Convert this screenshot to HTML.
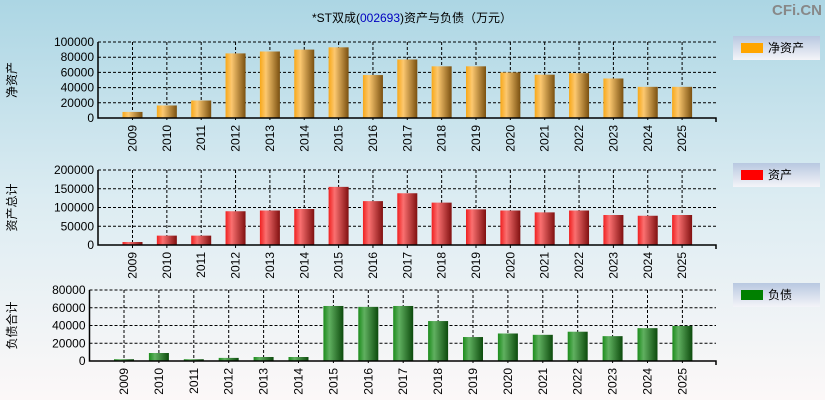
<!DOCTYPE html>
<html><head><meta charset="utf-8">
<style>
body{margin:0;width:825px;height:400px;overflow:hidden;font-family:"Liberation Sans","Noto Sans CJK SC",sans-serif;}
svg{display:block}
</style></head>
<body>
<svg id="c" width="825" height="400" xmlns="http://www.w3.org/2000/svg">
<defs>
<linearGradient id="bg" x1="0" y1="0" x2="0" y2="1"><stop offset="0" stop-color="#acd6e4"/><stop offset="0.5" stop-color="#dcecf2"/><stop offset="1" stop-color="#fcf8f8"/></linearGradient>
<linearGradient id="lg" x1="0" y1="0" x2="0" y2="1"><stop offset="0" stop-color="#b8c8e0"/><stop offset="1" stop-color="#f4f4f8"/></linearGradient>
<linearGradient id="go" x1="0" x2="1"><stop offset="0" stop-color="#f8a818"/><stop offset="0.3" stop-color="#fcc870"/><stop offset="1" stop-color="#7a5010"/></linearGradient>
<linearGradient id="gr" x1="0" x2="1"><stop offset="0" stop-color="#f02020"/><stop offset="0.3" stop-color="#fa7070"/><stop offset="1" stop-color="#801010"/></linearGradient>
<linearGradient id="gg" x1="0" x2="1"><stop offset="0" stop-color="#1c8c1c"/><stop offset="0.3" stop-color="#60b060"/><stop offset="1" stop-color="#0c4a0c"/></linearGradient>
</defs>
<rect width="825" height="400" fill="url(#bg)"/>
<text x="412" y="22" font-size="12" text-anchor="middle" fill="#000">*ST双成(<tspan fill="#0000c0">002693</tspan>)资产与负债（万元）</text>
<text x="822" y="15" font-size="15" font-weight="bold" text-anchor="end" fill="#888">CFi.CN</text>
</svg>
<script>
const years=["2009","2010","2011","2012","2013","2014","2015","2016","2017","2018","2019","2020","2021","2022","2023","2024","2025"];
const netAssets=[8000,16500,23000,85000,87500,90000,93000,56500,77000,68000,68000,60000,57000,59000,52000,41000,41000];
const totalAssets=[8000,25000,25000,90000,92000,96000,155000,117000,138000,113000,95000,92000,87000,92000,80000,78000,80000];
const liabilities=[2000,9000,2000,3500,4500,4500,62000,61000,62000,45000,27000,31000,29500,33000,28000,37000,39500];
const ticksTop=[0,20000,40000,60000,80000,100000];
const ticksMid=[0,50000,100000,150000,200000];
const ticksBot=[0,20000,40000,60000,80000];
const svg=document.getElementById('c');
const NS="http://www.w3.org/2000/svg";
function mk(t,a,p){const e=document.createElementNS(NS,t);for(const k in a)e.setAttribute(k,a[k]);(p||svg).appendChild(e);return e;}
function panel(o){
  const g=mk('g',{});
  
  
  const yS=v=>o.y0-(v/o.max)*(o.y0-o.y1);
  const xS=i=>o.c0+i*o.step;
  o.ticks.forEach(t=>{
    const y=yS(t);
    const l=mk('line',{x1:o.left,x2:o.right,y1:y,y2:y,stroke:'#000','stroke-dasharray':'3,2','stroke-width':1},g);
    
    
    const tx=mk('text',{x:o.left-4,y:y+4,'font-size':12,'text-anchor':'end',fill:'#000'},g);
    tx.textContent=t;
    
    
  });
  years.forEach((yr,i)=>{
    const x=xS(i);
    const l=mk('line',{x1:x,x2:x,y1:o.y1,y2:o.y0+4,stroke:'#000','stroke-dasharray':'3,2'},g);
    
    
  });
  o.vals.forEach((v,i)=>{
    const x=xS(i),y=yS(v);
    const r=mk('rect',{x:x-10,y:y,width:20,height:o.y0-y,fill:o.fill},g);
    
    
    const tx=mk('text',{x:0,y:0,'font-size':12,'text-anchor':'end',fill:'#000',transform:`translate(${x+4},${o.y0+7}) rotate(-90)`},g);
    tx.textContent=years[i];
    
    
  });
  const ax=mk('path',{d:`M${o.left},${o.y1}V${o.y0}H${o.right}V${o.y0+4}`,stroke:'#000',fill:'none','stroke-width':1.5},g);
  
  
  const yt=mk('text',{x:0,y:0,'font-size':12,'text-anchor':'middle',fill:'#000',transform:`translate(${o.tx},${(o.y0+o.y1)/2}) rotate(-90)`},g);
  yt.textContent=o.title;
  
  
  const lg=mk('g',{},g);
  
  
  mk('rect',{x:733,y:o.ly,width:87,height:24,fill:'url(#lg)'},lg);
  mk('rect',{x:741,y:o.ly+7,width:22,height:10,fill:o.lc},lg);
  const lt=mk('text',{x:768,y:o.ly+16,'font-size':12,fill:'#000'},lg);
  lt.textContent=o.title2;
}
panel({name:'net-assets',vals:netAssets,ticks:ticksTop,max:100000,y0:118,y1:42,left:98,right:716,c0:132.5,step:34.35,fill:'url(#go)',title:'净资产',title2:'净资产',tx:16,ly:36,lc:'#ffa500'});
panel({name:'total-assets',vals:totalAssets,ticks:ticksMid,max:200000,y0:245,y1:170,left:98,right:716,c0:132.5,step:34.35,fill:'url(#gr)',title:'资产总计',title2:'资产',tx:16,ly:163,lc:'#ff0000'});
panel({name:'liabilities',vals:liabilities,ticks:ticksBot,max:80000,y0:361,y1:290,left:89.5,right:716,c0:124,step:34.9,fill:'url(#gg)',title:'负债合计',title2:'负债',tx:16,ly:283,lc:'#008000'});
</script>
</body></html>
